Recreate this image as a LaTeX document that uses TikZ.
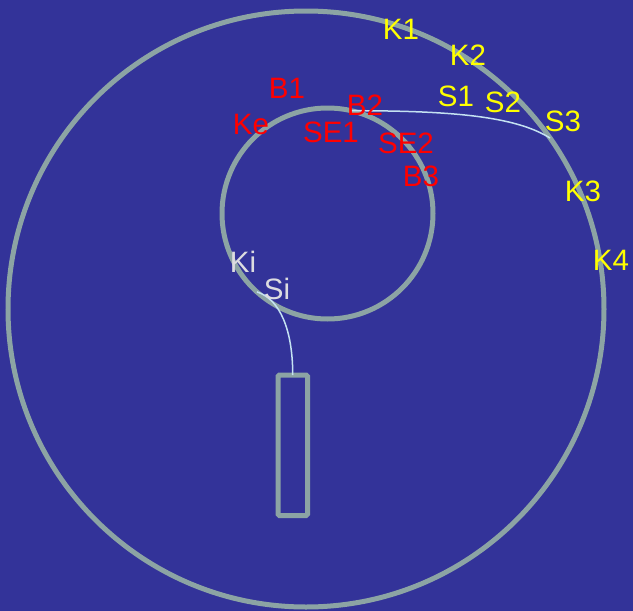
\documentclass[tikz,border=0pt]{standalone}
\usepackage{fontspec}
\setmainfont{Liberation Sans}
\usepackage{xcolor}
\usepackage{tikz}
\definecolor{bgblue}{HTML}{333399}
\definecolor{ringgray}{HTML}{8CA4A4}
\definecolor{wireblue}{HTML}{C4E2F2}
\definecolor{kyellow}{HTML}{FFFF00}
\definecolor{bred}{HTML}{FF0000}
\definecolor{ilight}{HTML}{DCDCE0}

\tikzset{
  ring/.style={draw=ringgray, line width=5pt, circle, inner sep=0pt, outer sep=0pt},
  wire/.style={draw=wireblue, line width=1.5pt},
  lbl/.style={inner sep=0pt, font=\fontsize{29.5}{32}\selectfont},
  klbl/.style={lbl, text=kyellow},
  blbl/.style={lbl, text=bred},
  ilbl/.style={lbl, text=ilight}
}

\begin{document}
\begin{tikzpicture}[x=1pt, y=-1pt]
    \fill[bgblue] (0,0) rectangle (633,611);
    \useasboundingbox (0,0) rectangle (633,611);

    % rings and tube
    \node[ring, minimum size=596pt] (outerring) at (306,309) {};
    \node[ring, minimum size=211pt] (innerring) at (327.5,213.5) {};
    \node[draw=ringgray, line width=5pt, rounded corners=1.5pt,
          minimum width=29.5pt, minimum height=140.5pt, inner sep=0pt,
          outer sep=0pt] (tube) at (292.75,445.25) {};

    % wires
    \draw[wire] (innerring.77) .. controls +(100,0) and +(-35,-22) .. (outerring.35);
    \draw[wire] (innerring.228) .. controls +(23,7) and +(0,-45) .. (tube.north);

    % labels
    \node[klbl] (k1) at (401,29) {K1};
    \node[klbl] (k2) at (468,55) {K2};
    \node[klbl] (s1) at (456,96) {S1};
    \node[klbl] (s2) at (503,102) {S2};
    \node[klbl] (s3) at (563,121) {S3};
    \node[klbl] (k3) at (583,191) {K3};
    \node[klbl] (k4) at (611,260) {K4};
    \node[blbl] (b1) at (287,88) {B1};
    \node[blbl] (ke) at (251,124) {Ke};
    \node[blbl] (b2) at (365,105) {B2};
    \node[blbl] (se1) at (331,132) {SE1};
    \node[blbl] (se2) at (406,143) {SE2};
    \node[blbl] (b3) at (421,176) {B3};
    \node[ilbl] (ki) at (243,262) {Ki};
    \node[ilbl] (si) at (277,289) {Si};
\end{tikzpicture}
\end{document}
